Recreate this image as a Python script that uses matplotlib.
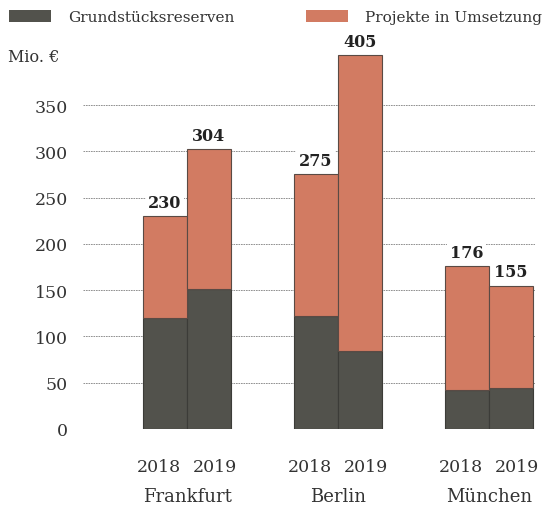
import numpy as np
import matplotlib.pyplot as plt
from matplotlib.patches import Patch

## Data ##
cities = ["Frankfurt", "Berlin", "München"]
years = ["2018", "2019"]
reserves = [120, 151, 122, 84, 42, 44]          # Grundstücksreserven
projects = [110, 151, 153, 320, 134, 111]       # Projekte in Umsetzung
totals = [230, 304, 275, 405, 176, 155]

dark = "#52524c"
orange = "#d27b62"
txt = "#333333"

plt.rcParams["font.family"] = "DejaVu Serif"

fig = plt.figure(figsize=(5.42, 5.06), dpi=100)
ax = fig.add_axes([83 / 542, 76 / 506, 452 / 542, (430 - 32) / 506])

## bar positions ##
group_gap = 3.43
pos = []
for g in range(len(cities)):
    pos += [1.864 + g * group_gap, 2.864 + g * group_gap]
pos = np.array(pos)

ax.bar(pos, reserves, width=1.0, color=dark, edgecolor="#3c3c38", linewidth=0.8, zorder=3)
ax.bar(pos, projects, width=1.0, bottom=reserves, color=orange, edgecolor="#5a4a44",
       linewidth=0.8, zorder=3)

for x, t, r, p in zip(pos, totals, reserves, projects):
    ax.text(x, r + p + 6, str(t), ha="center", va="bottom", fontsize=11.5, fontweight="bold",
            color="#222222", zorder=4,
            bbox=dict(facecolor="white", edgecolor="none", pad=2))

## axes ##
ax.set_xlim(0, 452 / 44)
ax.set_ylim(0, 430)
ax.set_yticks(range(0, 351, 50))
ax.yaxis.grid(True, linestyle=(0, (2, 1)), color="#808080", linewidth=0.6, zorder=0)
ax.set_axisbelow(True)
for s in ax.spines.values():
    s.set_visible(False)
ax.tick_params(axis="y", length=0, pad=11, labelsize=12.5, labelcolor=txt)

# year labels sit a little outward from the bar centres
offsets = np.array([-0.13, 0.13] * len(cities))
ax.set_xticks(pos + offsets)
ax.set_xticklabels(years * len(cities))
ax.tick_params(axis="x", length=0, pad=21, labelsize=12.5, labelcolor=txt)

for g, c in enumerate(cities):
    ax.text((pos[2 * g] + pos[2 * g + 1]) / 2, -72, c, ha="center", va="center",
            fontsize=13, color=txt)

fig.text(8 / 542, 1 - 58 / 506, "Mio. €", ha="left", va="center", fontsize=11.5, color=txt)

## legend ##
for handle_color, label, x0 in [(dark, "Grundstücksreserven", 9),
                                (orange, "Projekte in Umsetzung", 306)]:
    fig.legend(handles=[Patch(facecolor=handle_color)], labels=[label],
               loc="center left", bbox_to_anchor=(x0 / 542, 1 - 18 / 506), frameon=False,
               borderpad=0, borderaxespad=0,
               handlelength=2.75, handleheight=0.8, handletextpad=1.1, fontsize=11,
               labelcolor=txt)

fig.savefig("out.png", dpi=100)
